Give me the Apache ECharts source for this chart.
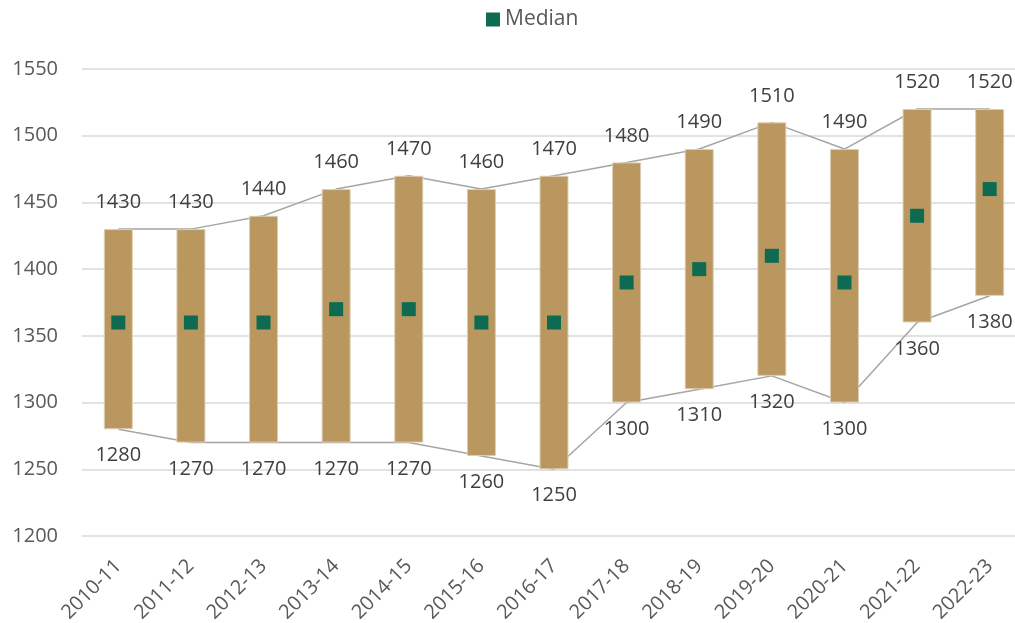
<!DOCTYPE html>
<html>
<head>
<meta charset="utf-8">
<script src="https://cdn.jsdelivr.net/npm/echarts@6/dist/echarts.min.js"></script>
<style>
  html, body { margin: 0; padding: 0; background: #fff; }
  #chart { width: 1015px; height: 623px; }
</style>
</head>
<body>
<div id="chart"></div>
<script>
const years = ['2010-11', '2011-12', '2012-13', '2013-14', '2014-15', '2015-16', '2016-17',
  '2017-18', '2018-19', '2019-20', '2020-21', '2021-22', '2022-23']
const highs = [1430, 1430, 1440, 1460, 1470, 1460, 1470, 1480, 1490, 1510, 1490, 1520, 1520]
const lows = [1280, 1270, 1270, 1270, 1270, 1260, 1250, 1300, 1310, 1320, 1300, 1360, 1380]
const medians = [1360, 1360, 1360, 1370, 1370, 1360, 1360, 1390, 1400, 1410, 1390, 1440, 1460]

const font = 'Open Sans'
const textColor = '#404040'

// bar body = high - low, stacked on a hidden base
const spans = highs.map((h, i) => h - lows[i])

const chart = echarts.init(document.getElementById('chart'))
chart.setOption({
  animation: false,
  legend: {
    data: ['Median'],
    top: 4,
    left: 481,
    icon: 'rect',
    itemWidth: 14,
    itemHeight: 14,
    itemGap: 8,
    textStyle: { fontFamily: font, fontSize: 21, color: '#595959' }
  },
  grid: {
    left: 82,
    top: 69,
    right: -11,
    height: 467,
    outerBoundsMode: 'none'
  },
  xAxis: {
    type: 'category',
    data: years,
    axisLine: { show: false },
    axisTick: { show: false },
    axisLabel: {
      rotate: 45,
      margin: 27,
      interval: 0,
      fontFamily: font,
      fontSize: 20,
      color: '#595959'
    }
  },
  yAxis: {
    type: 'value',
    min: 1200,
    max: 1550,
    interval: 50,
    axisLine: { show: false },
    axisTick: { show: false },
    axisLabel: {
      margin: 24,
      fontFamily: font,
      fontSize: 20,
      color: '#595959',
      formatter: v => String(v)
    },
    splitLine: { lineStyle: { color: '#D9D9D9', width: 1.5 } }
  },
  series: [
    {
      name: 'High',
      type: 'line',
      data: highs,
      z: 1,
      symbol: 'circle',
      symbolSize: 1,
      showSymbol: true,
      itemStyle: { color: 'rgba(0,0,0,0)' },
      lineStyle: { color: '#A5A5A5', width: 1.5 },
      label: {
        show: true,
        position: 'top',
        distance: 16,
        fontFamily: font,
        fontSize: 20,
        color: textColor
      }
    },
    {
      name: 'Low',
      type: 'line',
      data: lows,
      z: 1,
      symbol: 'circle',
      symbolSize: 1,
      showSymbol: true,
      itemStyle: { color: 'rgba(0,0,0,0)' },
      lineStyle: { color: '#A5A5A5', width: 1.5 },
      label: {
        show: true,
        position: 'bottom',
        distance: 16,
        fontFamily: font,
        fontSize: 20,
        color: textColor
      }
    },
    {
      name: 'base',
      type: 'bar',
      stack: 'range',
      data: lows,
      z: 2,
      barWidth: 29,
      itemStyle: { color: 'transparent' },
      emphasis: { disabled: true }
    },
    {
      name: 'Range',
      type: 'bar',
      stack: 'range',
      data: spans,
      z: 2,
      barWidth: 29,
      itemStyle: { color: '#B9975F', borderColor: '#DCCFB6', borderWidth: 1 }
    },
    {
      name: 'Median',
      type: 'scatter',
      data: medians,
      z: 3,
      symbol: 'rect',
      symbolSize: 14,
      itemStyle: { color: '#0E6B52', opacity: 1 }
    }
  ]
})
</script>
</body>
</html>
